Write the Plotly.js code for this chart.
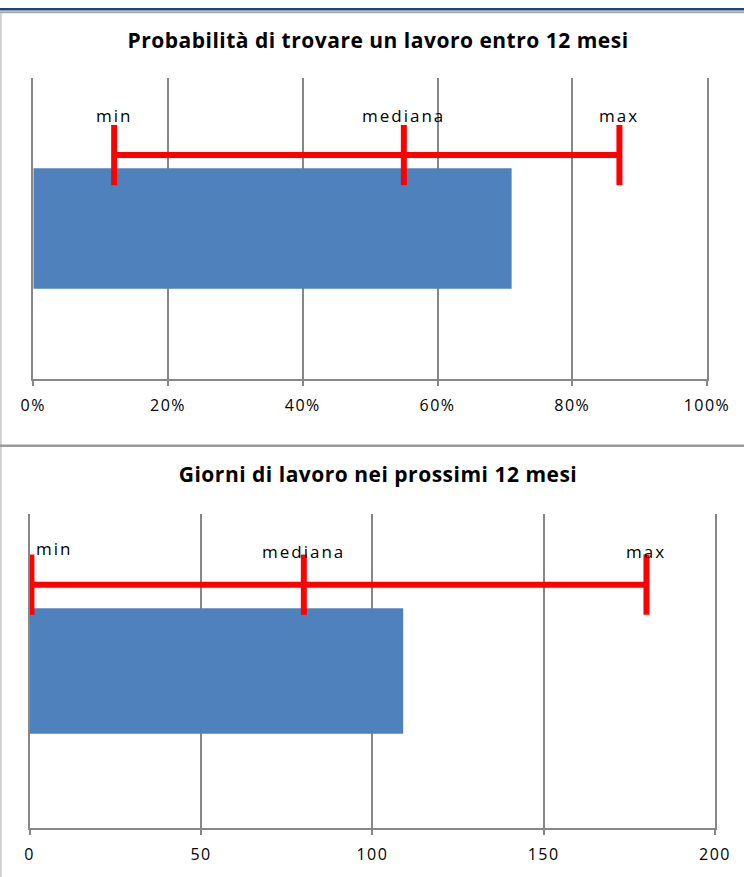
<!DOCTYPE html>
<html>
<head>
<meta charset="utf-8">
<script src="https://cdn.plot.ly/plotly-3.0.1.min.js"></script>
<style>
html, body { margin: 0; padding: 0; background: #ffffff; }
.xtick text, .x2tick text { letter-spacing: 1.5px; }
.annotation text { letter-spacing: 2px; }
.annotation[data-index="0"] text, .annotation[data-index="1"] text { letter-spacing: 0.5px; }
</style>
</head>
<body>
<div id="chart" style="width:744px;height:877px;"></div>
<script>
// ---------------- data ----------------
const titleTop = 'Probabilità di trovare un lavoro entro 12 mesi';
const valueTop = [71];                 // %
const rangeTop = [12, 55, 87];         // min, mediana, max (%)

const titleBottom = 'Giorni di lavoro nei prossimi 12 mesi';
const valueBottom = [109];             // giorni
const rangeBottom = [0.5, 80, 180];    // min, mediana, max (giorni)

const rangeLabels = ['min', 'mediana', 'max'];

// ---------------- style ----------------
const GRID = '#878787';
const BLUE = '#4F81BD';
const RED = '#FF0000';
const FONT = 'Open Sans, Liberation Sans, sans-serif';
const BAR_POS = 0.5;
const ERR_POS_TOP = 0.744;
const ERR_POS_BOTTOM = 0.775;
const W = 744, H = 877;
const px = v => v / W;
const py = v => 1 - v / H;

function barTrace(vals, xa, ya) {
  return {
    type: 'bar', orientation: 'h',
    x: vals, y: vals.map(() => BAR_POS), width: 0.4,
    marker: { color: BLUE, line: { width: 0 } },
    xaxis: xa, yaxis: ya, hoverinfo: 'skip', showlegend: false
  };
}
function rangeTrace(vals, pos, xa, ya) {
  return {
    type: 'scatter', mode: 'lines+markers',
    x: vals, y: vals.map(() => pos),
    line: { color: RED, width: 6 },
    marker: { symbol: 'line-ns', size: 43, color: RED, line: { color: RED, width: 6 } },
    cliponaxis: false,
    xaxis: xa, yaxis: ya, hoverinfo: 'skip', showlegend: false
  };
}

const data = [
  barTrace(valueTop, 'x', 'y'),
  rangeTrace(rangeTop, ERR_POS_TOP, 'x', 'y'),
  barTrace(valueBottom, 'x2', 'y2'),
  rangeTrace(rangeBottom, ERR_POS_BOTTOM, 'x2', 'y2')
];

function xAxis(domain, range, dtick, suffix, anchor) {
  return {
    domain: domain, range: range, dtick: dtick, tick0: 0, ticksuffix: suffix,
    anchor: anchor, fixedrange: true,
    showgrid: true, gridcolor: GRID, gridwidth: 2,
    zeroline: false,
    showline: true, linecolor: GRID, linewidth: 2,
    ticks: 'outside', ticklen: 5, tickwidth: 2, tickcolor: GRID,
    ticklabelstandoff: 6,
    tickfont: { family: FONT, size: 16, color: '#000000' }
  };
}
function yAxis(domain, anchor) {
  return {
    domain: domain, range: [0, 1], anchor: anchor, fixedrange: true,
    showgrid: false, zeroline: false,
    showline: true, mirror: true, linecolor: GRID, linewidth: 2,
    showticklabels: false, ticks: ''
  };
}

const annotations = [
  { text: '<b>' + titleTop + '</b>', xref: 'paper', yref: 'paper', x: px(377.5), y: py(55.7),
    xanchor: 'center', yanchor: 'bottom', showarrow: false,
    font: { family: FONT, size: 21, color: '#000000' } },
  { text: '<b>' + titleBottom + '</b>', xref: 'paper', yref: 'paper', x: px(377.5), y: py(489.7),
    xanchor: 'center', yanchor: 'bottom', showarrow: false,
    font: { family: FONT, size: 21, color: '#000000' } }
];
rangeLabels.forEach((lab, i) => {
  annotations.push({
    text: lab, xref: 'x', yref: 'y', x: rangeTop[i], y: ERR_POS_TOP,
    xanchor: 'center', yanchor: 'bottom', yshift: 26, showarrow: false,
    font: { family: FONT, size: 17, color: '#000000' }
  });
});
rangeLabels.forEach((lab, i) => {
  annotations.push({
    text: lab, xref: 'x2', yref: 'y2', x: rangeBottom[i], y: ERR_POS_BOTTOM,
    xanchor: i === 0 ? 'left' : 'center', xshift: i === 0 ? 6 : 0,
    yanchor: 'bottom', yshift: i === 0 ? 23 : 20, showarrow: false,
    font: { family: FONT, size: 17, color: '#000000' }
  });
});

const shapes = [
  { type: 'line', xref: 'paper', yref: 'paper', x0: 0, x1: 1, y0: py(9.3), y1: py(9.3),
    line: { color: '#1F4478', width: 2.5 } },
  { type: 'line', xref: 'paper', yref: 'paper', x0: 0, x1: 1, y0: py(12.3), y1: py(12.3),
    line: { color: '#A6A6A6', width: 2 } },
  { type: 'line', xref: 'paper', yref: 'paper', x0: px(0.8), x1: px(0.8), y0: py(13), y1: 0,
    line: { color: '#CFCFCF', width: 2 } },
  { type: 'line', xref: 'paper', yref: 'paper', x0: 0, x1: 1, y0: py(445.7), y1: py(445.7),
    line: { color: '#9A9A9A', width: 2.5 } }
];

const layout = {
  width: W, height: H,
  margin: { l: 0, r: 0, t: 0, b: 0, pad: 0 },
  paper_bgcolor: '#ffffff', plot_bgcolor: 'rgba(0,0,0,0)',
  showlegend: false, barmode: 'overlay',
  font: { family: FONT, color: '#000000' },
  xaxis: xAxis([px(33.3), px(707)], [0, 100], 20, '%', 'y'),
  yaxis: yAxis([py(379), py(78)], 'x'),
  xaxis2: xAxis([px(29.7), px(715)], [0, 200], 50, '', 'y2'),
  yaxis2: yAxis([py(828), py(514)], 'x2'),
  annotations: annotations,
  shapes: shapes
};

Plotly.newPlot('chart', data, layout, { displayModeBar: false, staticPlot: true });
</script>
</body>
</html>
